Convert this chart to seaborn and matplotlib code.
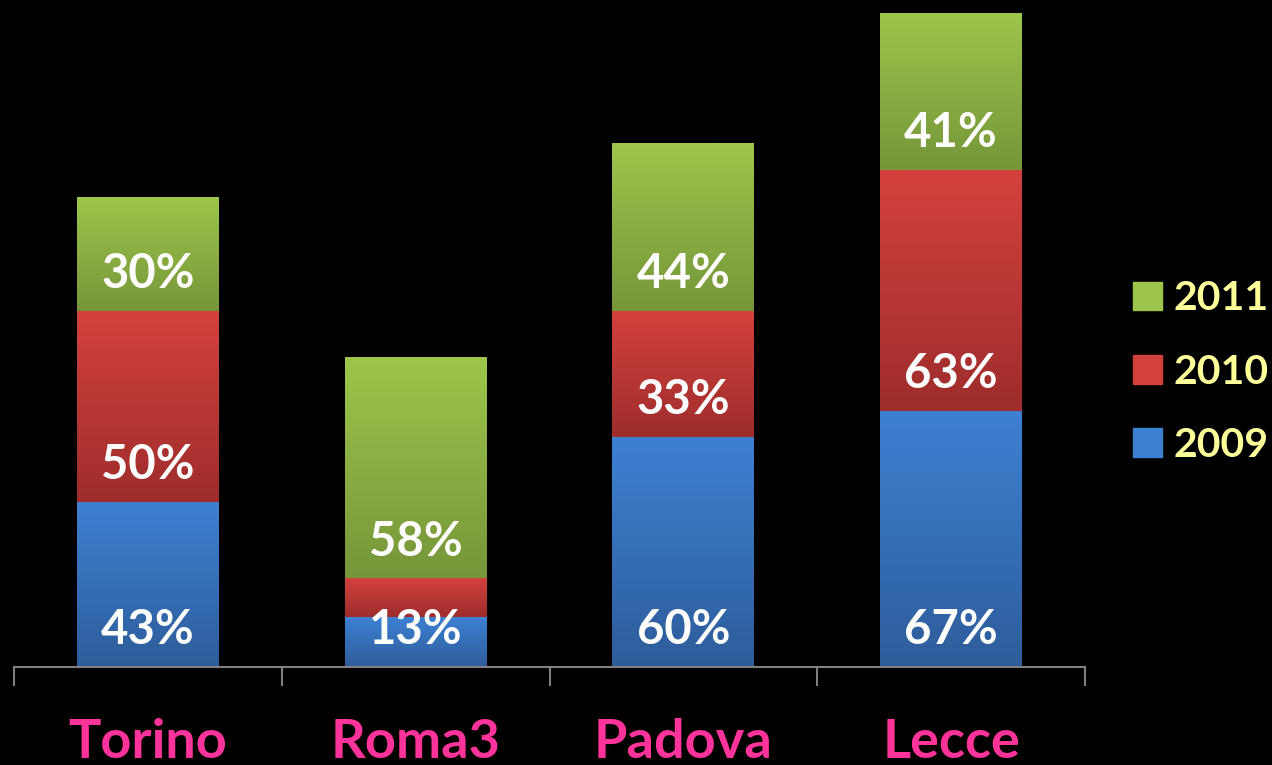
import numpy as np
import pandas as pd
import seaborn as sns
import matplotlib.pyplot as plt
from matplotlib.patches import Patch

cities = ["Torino", "Roma3", "Padova", "Lecce"]
years = ["2009", "2010", "2011"]
v2009 = [43, 13, 60, 67]
v2010 = [50, 10, 33, 63]
v2011 = [30, 58, 44, 41]
labels2009 = ["43%", "13%", "60%", "67%"]
labels2010 = ["50%", "", "33%", "63%"]
labels2011 = ["30%", "58%", "44%", "41%"]

# gradient colours per series: (top, bottom)
grad_colors = {
    "2009": ("#3D80D2", "#2E5D9B"),
    "2010": ("#D3413E", "#9E2D2B"),
    "2011": ("#9DC54B", "#76963A"),
}

sns.set_theme(style="dark")
plt.rcParams["font.family"] = ["Lato", "DejaVu Sans"]

df = pd.DataFrame({"city": cities, "2009": v2009, "2010": v2010, "2011": v2011})
df["c2009"] = df["2009"]
df["c2010"] = df["c2009"] + df["2010"]
df["c2011"] = df["c2010"] + df["2011"]

fig = plt.figure(figsize=(12.72, 7.65), dpi=100, facecolor="black")
ax = fig.add_axes([14 / 1272, 98 / 765, 1071 / 1272, 667 / 765])
ax.set_facecolor("black")

bottoms = {"2009": np.zeros(4), "2010": df["c2009"].values, "2011": df["c2010"].values}
labels = {"2009": labels2009, "2010": labels2010, "2011": labels2011}

# overlapping cumulative bars, tallest first
for yr in ["2011", "2010", "2009"]:
    n0 = len(ax.patches)
    sns.barplot(data=df, x="city", y="c" + yr, color=grad_colors[yr][0],
                width=0.53, saturation=1, linewidth=0, ax=ax, zorder=2)
    bars = ax.patches[n0:]
    top_rgb = np.array(plt.matplotlib.colors.to_rgb(grad_colors[yr][0]))
    bot_rgb = np.array(plt.matplotlib.colors.to_rgb(grad_colors[yr][1]))
    grad = np.linspace(top_rgb, bot_rgb, 64)[:, None, :]
    for i, p in enumerate(bars):
        x0, w, top = p.get_x(), p.get_width(), p.get_height()
        ax.imshow(grad, extent=(x0, x0 + w, bottoms[yr][i], top),
                  aspect="auto", interpolation="bilinear", zorder=3)

for yr in years:
    for i, txt in enumerate(labels[yr]):
        if txt:
            ax.annotate(txt, (i, bottoms[yr][i]), xytext=(0, 27),
                        textcoords="offset points", ha="center", va="center",
                        color="white", fontsize=34, fontweight="bold", zorder=5)

ax.set_xlim(-0.5, 3.5)
ax.set_ylim(0, 174.6)
ax.set_yticks([])
ax.set_xlabel("")
ax.set_ylabel("")
for s in ["top", "left", "right"]:
    ax.spines[s].set_visible(False)
ax.spines["bottom"].set_color("#808080")
ax.spines["bottom"].set_linewidth(1.5)
ax.spines["bottom"].set_zorder(6)

ax.set_xticks([-0.5, 0.5, 1.5, 2.5, 3.5], minor=True)
ax.tick_params(axis="x", which="minor", length=14, width=1.5, color="#808080",
               direction="out", bottom=True)
ax.tick_params(axis="x", which="major", length=0, pad=37, labelsize=39,
               labelcolor="#FF3399")
for lbl in ax.get_xticklabels():
    lbl.set_fontweight("bold")

handles = [Patch(color=grad_colors[y][0]) for y in ["2011", "2010", "2009"]]
fig.legend(handles, ["2011", "2010", "2009"], loc="center left",
           bbox_to_anchor=(1133 / 1272, 1 - 372 / 765), frameon=False,
           prop={"size": 29.5, "weight": "bold"}, labelcolor="#FFFF99",
           handlelength=0.7, handleheight=0.7, handletextpad=0.28,
           labelspacing=0.88, borderpad=0, borderaxespad=0)

fig.savefig("out.png", dpi=100, facecolor="black")
